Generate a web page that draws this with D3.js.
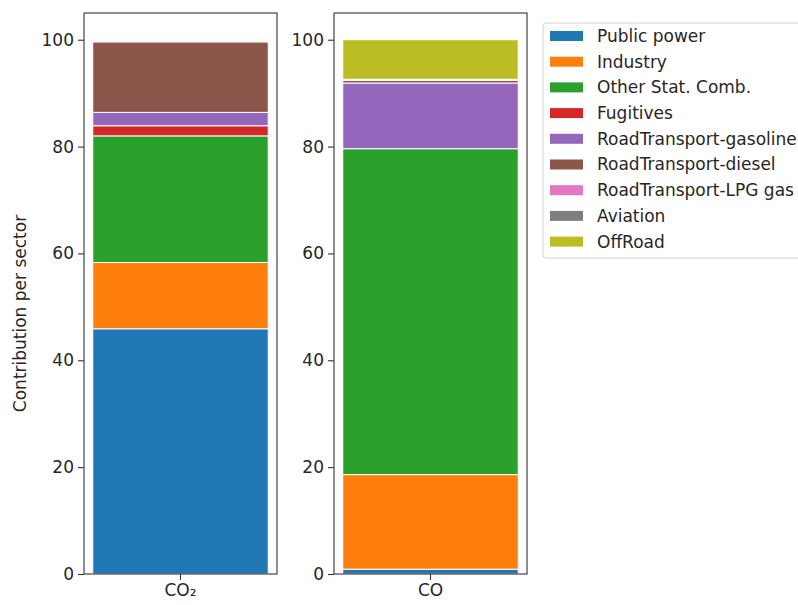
<!DOCTYPE html>
<html>
<head>
<meta charset="utf-8">
<script src="https://cdn.jsdelivr.net/npm/d3@7"></script>
<style>
  html, body { margin: 0; padding: 0; background: #fff; }
  svg { display: block; font-family: "DejaVu Sans", sans-serif; }
</style>
</head>
<body>
<svg id="chart" width="798" height="605"></svg>
<script>
// Pollutants (one panel each) and emission sectors (stack order, bottom to top)
const categories = ["CO₂", "CO"];
const sectors = [
  "Public power", "Industry", "Other Stat. Comb.", "Fugitives",
  "RoadTransport-gasoline", "RoadTransport-diesel", "RoadTransport-LPG gas",
  "Aviation", "OffRoad"
];
// Percentage contribution of each sector, in sector order
const co2Values = [45.9, 12.4, 23.7, 1.9, 2.5, 13.2, 0.0, 0.2, 0.2];
const coValues  = [0.9, 17.7, 61.0, 0.0, 12.3, 0.5, 0.1, 0.1, 7.4];
const yTicks = [0, 20, 40, 60, 80, 100];
const colors = ["#1f77b4", "#ff7f0e", "#2ca02c", "#d62728", "#9467bd",
                "#8c564b", "#e377c2", "#7f7f7f", "#bcbd22"];

const svg = d3.select("#chart");
const fontSize = 17;
const textColor = "#262626";

const panels = [
  { label: categories[0], values: co2Values, x0: 84, x1: 277 },
  { label: categories[1], values: coValues,  x0: 334, x1: 527 }
];
const plotTop = 13, plotBottom = 574;

const y = d3.scaleLinear().domain([0, 105]).range([plotBottom, plotTop]);
const color = d3.scaleOrdinal().domain(sectors).range(colors);

panels.forEach(p => {
  const g = svg.append("g");
  // one category per panel; bars are 0.8 wide with 5% axis margins
  const x = d3.scaleBand().domain([p.label]).range([p.x0, p.x1]).padding(0.05);
  const xb = d3.scaleLinear().domain([-0.44, 0.44]).range([p.x0, p.x1]);

  // stacked segments
  const row = {};
  sectors.forEach((s, i) => row[s] = p.values[i]);
  const stacked = d3.stack().keys(sectors)([row]);
  g.selectAll("rect.seg").data(stacked).join("rect")
    .attr("class", "seg")
    .attr("x", xb(-0.4))
    .attr("width", xb(0.4) - xb(-0.4))
    .attr("y", d => y(d[0][1]))
    .attr("height", d => Math.max(0, y(d[0][0]) - y(d[0][1])))
    .attr("fill", d => color(d.key))
    .attr("stroke", "#fff")
    .attr("stroke-width", 1);

  // y axis
  const yAxis = d3.axisLeft(y).tickValues(yTicks).tickSize(6).tickPadding(4);
  const ya = g.append("g").attr("transform", `translate(${p.x0},0)`).call(yAxis);
  ya.select(".domain").remove();
  ya.selectAll("line").attr("stroke", "#333").attr("stroke-width", 1.1);
  ya.selectAll("text").attr("font-size", fontSize).attr("fill", textColor)
    .attr("font-family", "DejaVu Sans");

  // x axis
  const xAxis = d3.axisBottom(x).tickSize(6).tickPadding(4);
  const xa = g.append("g").attr("transform", `translate(0,${plotBottom})`).call(xAxis);
  xa.select(".domain").remove();
  xa.selectAll("line").attr("stroke", "#333").attr("stroke-width", 1.1);
  xa.selectAll("text").attr("font-size", fontSize).attr("fill", textColor)
    .attr("font-family", "DejaVu Sans");

  // frame
  g.append("rect")
    .attr("x", p.x0).attr("y", plotTop)
    .attr("width", p.x1 - p.x0).attr("height", plotBottom - plotTop)
    .attr("fill", "none").attr("stroke", "#333").attr("stroke-width", 1.1);
});

// y-axis title
svg.append("text")
  .attr("transform", `translate(26,${(plotTop + plotBottom) / 2 + 20}) rotate(-90)`)
  .attr("text-anchor", "middle")
  .attr("font-size", fontSize)
  .attr("fill", textColor)
  .text("Contribution per sector");

// legend
const legend = svg.append("g").attr("transform", "translate(543,23)");
legend.append("rect")
  .attr("x", 0).attr("y", 0).attr("width", 280).attr("height", 235)
  .attr("rx", 3).attr("fill", "#fff").attr("fill-opacity", 0.8)
  .attr("stroke", "#d0d0d0").attr("stroke-width", 1);
const items = legend.selectAll("g.item").data(sectors).join("g")
  .attr("class", "item")
  .attr("transform", (d, i) => `translate(0,${13 + i * 25.7})`);
items.append("rect")
  .attr("x", 7).attr("y", -5).attr("width", 33).attr("height", 10)
  .attr("fill", d => color(d));
items.append("text")
  .attr("x", 54).attr("y", 0).attr("dy", "0.35em")
  .attr("font-size", fontSize).attr("fill", textColor)
  .text(d => d);
</script>
</body>
</html>
